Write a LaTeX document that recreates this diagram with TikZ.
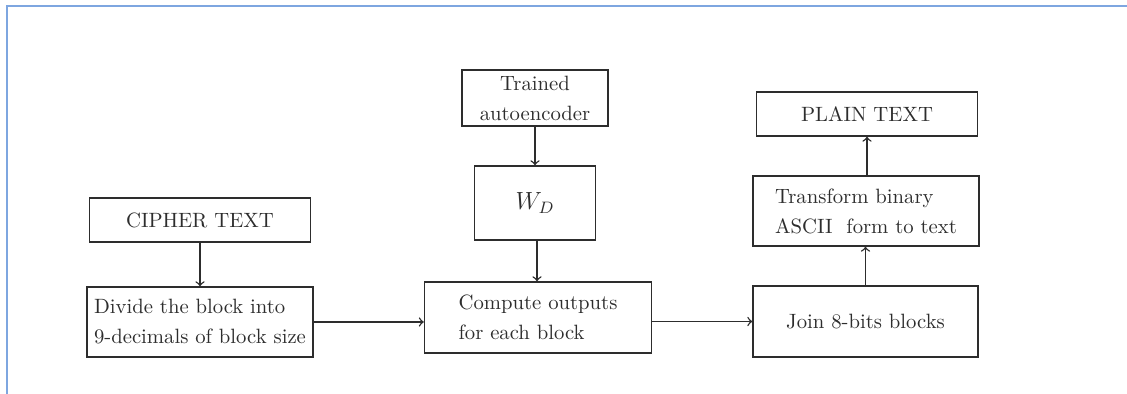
\documentclass[tikz,border=0pt]{standalone}
\usetikzlibrary{calc}
\definecolor{framecol}{RGB}{126,166,224}
\definecolor{ink}{RGB}{45,45,45}
\begin{document}
\begin{tikzpicture}[x=0.483pt,y=-0.483pt,
  box/.style={draw=ink, text=ink, line width=0.7pt, inner sep=0pt, align=left,
    font=\fontsize{10}{14.5}\selectfont},
  arr/.style={->, draw=ink, line width=0.7pt}]
\useasboundingbox (0,0) rectangle (1127,394);
\draw[framecol, line width=1pt] (7,394) -- (7,6) -- (1127,6);
% nodes
\node[box, minimum width={221*0.483pt}, minimum height={44*0.483pt}] (cipher) at (200,220) {CIPHER TEXT};
\node[box, minimum width={226*0.483pt}, minimum height={70*0.483pt}] (divide) at (200,322) {Divide the block into\\9-decimals of block size};
\node[box, align=center, minimum width={146*0.483pt}, minimum height={56*0.483pt}] (trained) at (535,98) {Trained\\autoencoder};
\node[box, font=\large, minimum width={121*0.483pt}, minimum height={74*0.483pt}] (wd) at (535,203) {$W_D$};
\node[box, minimum width={227*0.483pt}, minimum height={71*0.483pt}] (compute) at (538,317.5) {Compute outputs\\for each block};
\node[box, minimum width={221*0.483pt}, minimum height={44*0.483pt}] (plain) at (867,114) {PLAIN TEXT};
\node[box, minimum width={226*0.483pt}, minimum height={70*0.483pt}] (transform) at (866,211) {Transform binary\\ASCII\ \ form to text};
\node[box, minimum width={225*0.483pt}, minimum height={71*0.483pt}] (join) at (865.5,321.5) {Join 8-bits blocks};
% connectors
\draw[arr] (cipher) -- (divide);
\draw[arr] (divide.east) -- (divide.east -| compute.west);
\draw[arr] (trained) -- (trained.south |- wd.north);
\draw[arr] (wd.south -| 537,0) -- (compute.north -| 537,0);
\draw[arr] (compute.east |- join.west) -- (join.west);
\draw[arr] (join) -- (join.north |- transform.south);
\draw[arr] (transform.north -| plain.south) -- (plain.south);
\end{tikzpicture}
\end{document}
